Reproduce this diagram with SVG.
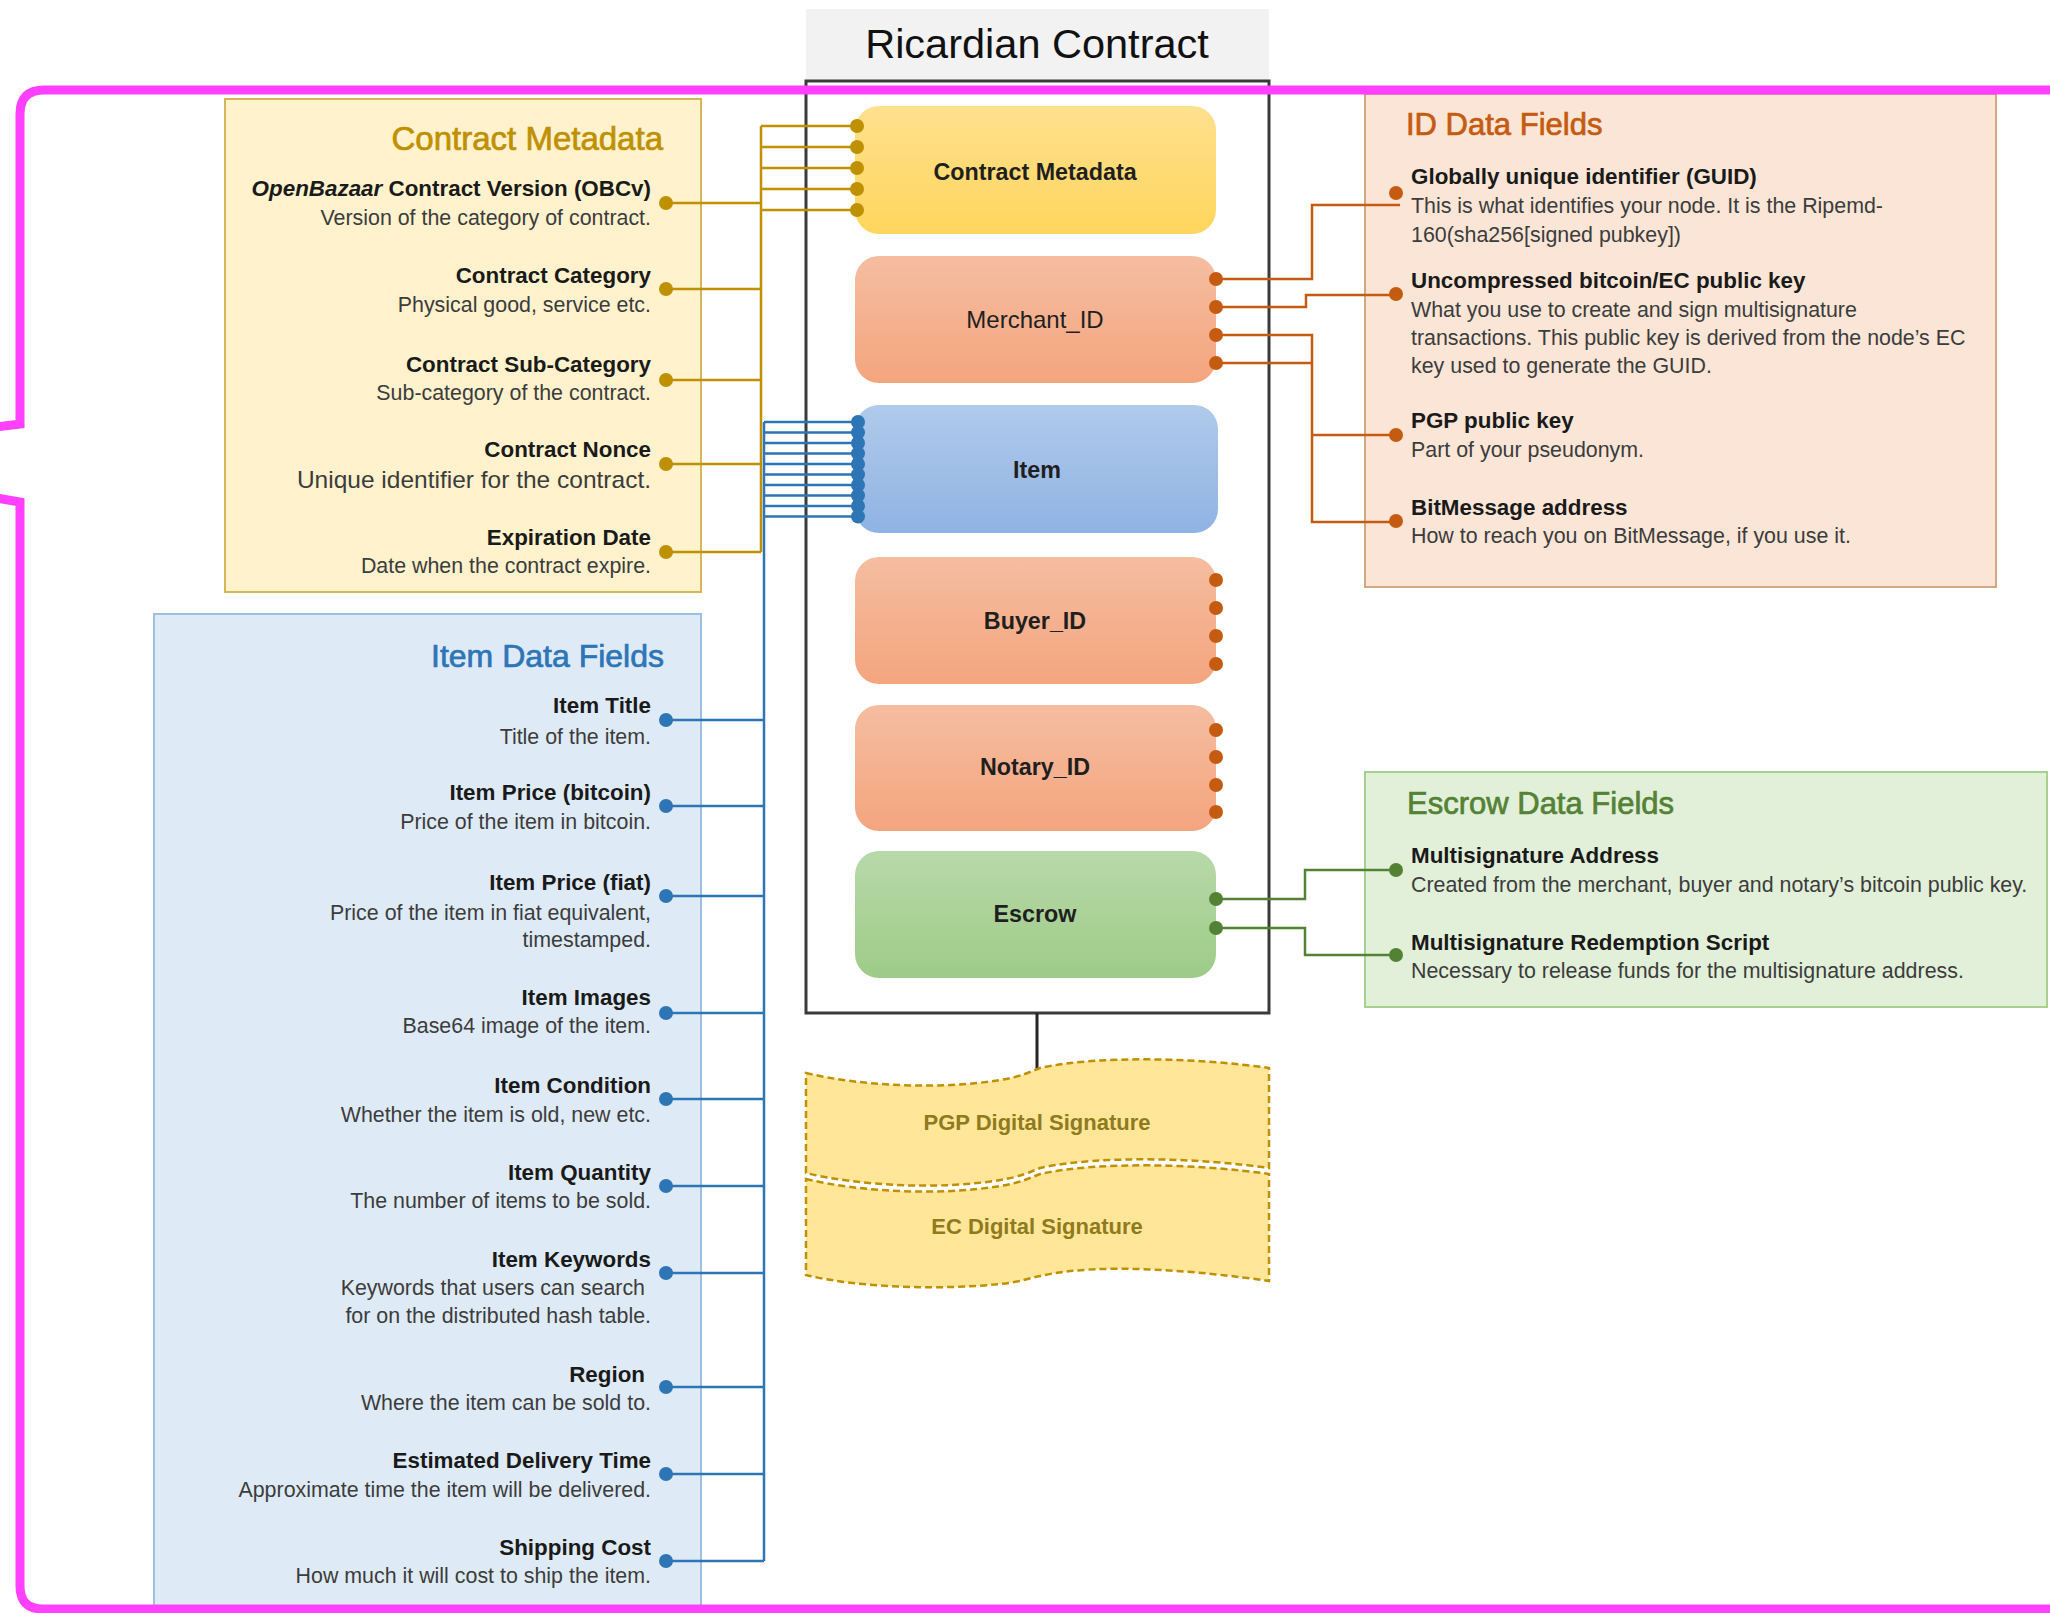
<svg xmlns="http://www.w3.org/2000/svg" width="2050" height="1613" viewBox="0 0 2050 1613">
<defs>
<style>
text{font-family:'Liberation Sans',Arial,sans-serif}
.h{font-size:22.4px;font-weight:bold;fill:#1a1a1a}
.d{font-size:21.4px;fill:#3c3c3c}
.r{text-anchor:end}
.t{font-size:31px;stroke-width:0.7}
.tl{font-size:33px}
.ti{font-size:32px}
.n{font-size:23.3px;font-weight:bold;fill:#1f1f1f;text-anchor:middle}
.nr{font-weight:normal;font-size:24px}
.big{font-size:24.5px}
.sig{font-size:22px;font-weight:bold;fill:#8f7a1e;text-anchor:middle}
.cy{stroke:#BF9000;stroke-width:2.5;fill:none}
.cb{stroke:#2E75B6;stroke-width:2.5;fill:none}
.co{stroke:#C55A11;stroke-width:2.5;fill:none}
.cg{stroke:#548235;stroke-width:2.5;fill:none}
.dy{fill:#BF9000}.db{fill:#2E75B6}.do{fill:#C55A11}.dg{fill:#548235}
.sigs{fill:#FFE699;stroke:#BF9000;stroke-width:2.5;stroke-dasharray:7 4}
</style>
<linearGradient id="gY" x1="0" y1="0" x2="0" y2="1"><stop offset="0" stop-color="#FFE08F"/><stop offset="1" stop-color="#FFD65C"/></linearGradient>
<linearGradient id="gO" x1="0" y1="0" x2="0" y2="1"><stop offset="0" stop-color="#F5BDA0"/><stop offset="1" stop-color="#F4A57E"/></linearGradient>
<linearGradient id="gB" x1="0" y1="0" x2="0" y2="1"><stop offset="0" stop-color="#B0CAEB"/><stop offset="1" stop-color="#8FB3E3"/></linearGradient>
<linearGradient id="gG" x1="0" y1="0" x2="0" y2="1"><stop offset="0" stop-color="#B8D9A9"/><stop offset="1" stop-color="#9ECB88"/></linearGradient>
</defs>
<rect width="2050" height="1613" fill="#ffffff"/>

<g id="title">
<rect x="806" y="9" width="463" height="72" fill="#F2F2F2"/>
<text x="1037" y="58" font-size="41.5" text-anchor="middle" fill="#111">Ricardian Contract</text>
</g>

<g id="panel-contract-metadata">
<rect x="225" y="99" width="476" height="493" fill="#FFF2CC" stroke="#D6B656" stroke-width="2"/>
<text class="t tl r" x="663" y="150" fill="#BF9000" stroke="#BF9000">Contract Metadata</text>
<text class="h r" x="651" y="196"><tspan font-style="italic">OpenBazaar</tspan> Contract Version (OBCv)</text>
<text class="d r" x="651" y="225">Version of the category of contract.</text>
<text class="h r" x="651" y="283">Contract Category</text>
<text class="d r" x="651" y="312">Physical good, service etc.</text>
<text class="h r" x="651" y="372">Contract Sub-Category</text>
<text class="d r" x="651" y="400">Sub-category of the contract.</text>
<text class="h r" x="651" y="457">Contract Nonce</text>
<text class="d big r" x="651" y="488">Unique identifier for the contract.</text>
<text class="h r" x="651" y="545">Expiration Date</text>
<text class="d r" x="651" y="573">Date when the contract expire.</text>
</g>

<g id="panel-item-data-fields">
<rect x="154" y="614" width="547" height="1010" fill="#DEEBF7" stroke="#9DBFE0" stroke-width="2"/>
<text class="t ti r" x="664" y="667" fill="#2E75B6" stroke="#2E75B6">Item Data Fields</text>
<text class="h r" x="651" y="713">Item Title</text>
<text class="d r" x="651" y="744">Title of the item.</text>
<text class="h r" x="651" y="800">Item Price (bitcoin)</text>
<text class="d r" x="651" y="829">Price of the item in bitcoin.</text>
<text class="h r" x="651" y="890">Item Price (fiat)</text>
<text class="d r" x="651" y="920">Price of the item in fiat equivalent,</text>
<text class="d r" x="651" y="947">timestamped.</text>
<text class="h r" x="651" y="1005">Item Images</text>
<text class="d r" x="651" y="1033">Base64 image of the item.</text>
<text class="h r" x="651" y="1093">Item Condition</text>
<text class="d r" x="651" y="1122">Whether the item is old, new etc.</text>
<text class="h r" x="651" y="1180">Item Quantity</text>
<text class="d r" x="651" y="1208">The number of items to be sold.</text>
<text class="h r" x="651" y="1267">Item Keywords</text>
<text class="d r" x="645" y="1295">Keywords that users can search</text>
<text class="d r" x="651" y="1323">for on the distributed hash table.</text>
<text class="h r" x="645" y="1382">Region</text>
<text class="d r" x="651" y="1410">Where the item can be sold to.</text>
<text class="h r" x="651" y="1468">Estimated Delivery Time</text>
<text class="d r" x="651" y="1497">Approximate time the item will be delivered.</text>
<text class="h r" x="651" y="1555">Shipping Cost</text>
<text class="d r" x="651" y="1583">How much it will cost to ship the item.</text>
</g>

<g id="panel-id-data-fields">
<rect x="1365" y="94" width="631" height="493" fill="#FBE5D6" stroke="#D4A77F" stroke-width="2"/>
<text class="t" x="1406" y="135" fill="#C55A11" stroke="#C55A11">ID Data Fields</text>
<text class="h" x="1411" y="184">Globally unique identifier (GUID)</text>
<text class="d" x="1411" y="213">This is what identifies your node. It is the Ripemd-</text>
<text class="d" x="1411" y="242">160(sha256[signed pubkey])</text>
<text class="h" x="1411" y="288">Uncompressed bitcoin/EC public key</text>
<text class="d" x="1411" y="317">What you use to create and sign multisignature</text>
<text class="d" x="1411" y="345">transactions. This public key is derived from the node’s EC</text>
<text class="d" x="1411" y="373">key used to generate the GUID.</text>
<text class="h" x="1411" y="428">PGP public key</text>
<text class="d" x="1411" y="457">Part of your pseudonym.</text>
<text class="h" x="1411" y="515">BitMessage address</text>
<text class="d" x="1411" y="543">How to reach you on BitMessage, if you use it.</text>
</g>

<g id="panel-escrow-data-fields">
<rect x="1365" y="772" width="682" height="235" fill="#E2F0D9" stroke="#A9D18E" stroke-width="2"/>
<text class="t" x="1407" y="814" fill="#548235" stroke="#548235">Escrow Data Fields</text>
<text class="h" x="1411" y="863">Multisignature Address</text>
<text class="d" x="1411" y="892">Created from the merchant, buyer and notary’s bitcoin public key.</text>
<text class="h" x="1411" y="950">Multisignature Redemption Script</text>
<text class="d" x="1411" y="978">Necessary to release funds for the multisignature address.</text>
</g>

<g id="contract-box">
<rect x="806" y="81" width="463" height="932" fill="none" stroke="#3a3a3a" stroke-width="3"/>
</g>

<g id="node-contract-metadata">
<rect x="855" y="106" width="361" height="128" rx="24" fill="url(#gY)"/>
<text class="n" x="1035" y="180">Contract Metadata</text>
</g>
<g id="node-merchant-id">
<rect x="855" y="256" width="361" height="127" rx="24" fill="url(#gO)"/>
<text class="n nr" x="1035" y="328">Merchant_ID</text>
</g>
<g id="node-item">
<rect x="855" y="405" width="363" height="128" rx="24" fill="url(#gB)"/>
<text class="n" x="1037" y="478">Item</text>
</g>
<g id="node-buyer-id">
<rect x="855" y="557" width="361" height="127" rx="24" fill="url(#gO)"/>
<text class="n" x="1035" y="629">Buyer_ID</text>
</g>
<g id="node-notary-id">
<rect x="855" y="705" width="361" height="126" rx="24" fill="url(#gO)"/>
<text class="n" x="1035" y="775">Notary_ID</text>
</g>
<g id="node-escrow">
<rect x="855" y="851" width="361" height="127" rx="24" fill="url(#gG)"/>
<text class="n" x="1035" y="922">Escrow</text>
</g>

<g id="connectors">
<path class="cy" d="M761 126V552M761 126H857M761 147H857M761 168H857M761 189H857M761 210H857M666 203H761M666 289H761M666 380H761M666 464H761M666 552H761"/>
<path class="cb" d="M764 422V1561M764 422H858M764 432.5H858M764 443H858M764 453.5H858M764 464H858M764 474.5H858M764 485H858M764 495.5H858M764 506H858M764 516.5H858M666 720H764M666 806H764M666 896H764M666 1013H764M666 1099H764M666 1186H764M666 1273H764M666 1387H764M666 1474H764M666 1561H764"/>
<path class="co" d="M1216 279H1312V205H1400M1216 307H1306V295H1396M1216 335H1312V522H1396M1312 435H1396M1216 363H1312"/>
<path class="cg" d="M1216 899H1305V870H1396M1216 928H1305V955H1396"/>
<path d="M1037 1013V1072" stroke="#262626" stroke-width="3" fill="none"/>
</g>

<g id="ports">
<g class="dy">
<circle cx="857" cy="126" r="7"/><circle cx="857" cy="147" r="7"/><circle cx="857" cy="168" r="7"/><circle cx="857" cy="189" r="7"/><circle cx="857" cy="210" r="7"/>
<circle cx="666" cy="203" r="7"/><circle cx="666" cy="289" r="7"/><circle cx="666" cy="380" r="7"/><circle cx="666" cy="464" r="7"/><circle cx="666" cy="552" r="7"/>
</g>
<g class="db">
<circle cx="858" cy="422" r="7"/><circle cx="858" cy="432.5" r="7"/><circle cx="858" cy="443" r="7"/><circle cx="858" cy="453.5" r="7"/><circle cx="858" cy="464" r="7"/><circle cx="858" cy="474.5" r="7"/><circle cx="858" cy="485" r="7"/><circle cx="858" cy="495.5" r="7"/><circle cx="858" cy="506" r="7"/><circle cx="858" cy="516.5" r="7"/>
<circle cx="666" cy="720" r="7"/><circle cx="666" cy="806" r="7"/><circle cx="666" cy="896" r="7"/><circle cx="666" cy="1013" r="7"/><circle cx="666" cy="1099" r="7"/><circle cx="666" cy="1186" r="7"/><circle cx="666" cy="1273" r="7"/><circle cx="666" cy="1387" r="7"/><circle cx="666" cy="1474" r="7"/><circle cx="666" cy="1561" r="7"/>
</g>
<g class="do">
<circle cx="1216" cy="279" r="7"/><circle cx="1216" cy="307" r="7"/><circle cx="1216" cy="335" r="7"/><circle cx="1216" cy="363" r="7"/>
<circle cx="1216" cy="580" r="7"/><circle cx="1216" cy="608" r="7"/><circle cx="1216" cy="636" r="7"/><circle cx="1216" cy="664" r="7"/>
<circle cx="1216" cy="730" r="7"/><circle cx="1216" cy="757" r="7"/><circle cx="1216" cy="785" r="7"/><circle cx="1216" cy="812" r="7"/>
<circle cx="1396" cy="193" r="7"/><circle cx="1396" cy="294" r="7"/><circle cx="1396" cy="435" r="7"/><circle cx="1396" cy="521" r="7"/>
</g>
<g class="dg">
<circle cx="1216" cy="899" r="7"/><circle cx="1216" cy="928" r="7"/>
<circle cx="1396" cy="870" r="7"/><circle cx="1396" cy="955" r="7"/>
</g>
</g>

<g id="node-ec-signature">
<path class="sigs" d="M806 1179C860 1192 940 1196 1000 1186C1020 1183 1030 1178 1040 1174C1100 1161 1200 1164 1269 1174V1281C1200 1271 1100 1262 1040 1276C1030 1278 1020 1282 1000 1284C940 1290 860 1288 806 1275Z"/>
<text class="sig" x="1037" y="1234">EC Digital Signature</text>
</g>
<g id="node-pgp-signature">
<path class="sigs" d="M806 1073C860 1086 940 1090 1000 1080C1020 1077 1030 1072 1040 1068C1100 1055 1200 1058 1269 1068V1168C1200 1158 1100 1155 1040 1168C1030 1172 1020 1177 1000 1180C940 1190 860 1186 806 1173Z"/>
<text class="sig" x="1037" y="1130">PGP Digital Signature</text>
</g>

<g id="highlight-frame" fill="none" stroke="#FF40FF" stroke-width="9" stroke-linejoin="miter">
<path d="M-4 427L20 424V114Q20 90 44 90H2060"/>
<path d="M-4 498L20 502V1586Q20 1609 43 1609H2060"/>
</g>
</svg>
